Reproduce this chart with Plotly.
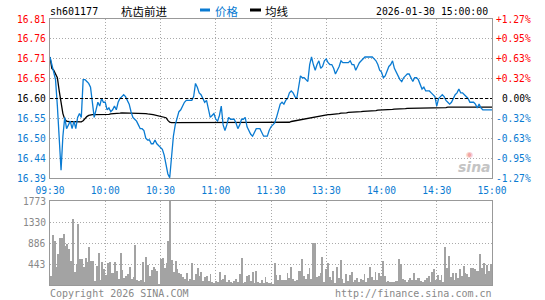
import plotly.graph_objects as go
import numpy as np

code = "sh601177"
name = "杭齿前进"
timestamp = "2026-01-30 15:00:00"
legend_price = "价格"
legend_avg = "均线"
prev_close = 16.60
pct_span = 1.27

time_ticks = [0, 30, 60, 90, 120, 150, 180, 210, 240]
time_labels = ["09:30", "10:00", "10:30", "11:00", "11:30", "13:30", "14:00", "14:30", "15:00"]
price_labels = ["16.39", "16.44", "16.50", "16.55", "16.60", "16.65", "16.71", "16.76", "16.81"]
pct_labels = ["-1.27%", "-0.95%", "-0.63%", "-0.32%", "0.00%", "+0.32%", "+0.63%", "+0.95%", "+1.27%"]
vol_labels = ["443", "886", "1330", "1773"]
vol_max = 1773

price = [
    16.71, 16.69, 16.67, 16.65, 16.58, 16.50, 16.41, 16.50, 16.55, 16.52,
    16.53, 16.54, 16.52, 16.54, 16.52, 16.55, 16.56, 16.55, 16.65, 16.65,
    16.645, 16.64, 16.63, 16.59, 16.55, 16.57, 16.59, 16.58, 16.60, 16.59,
    16.59, 16.57, 16.575, 16.565, 16.57, 16.58, 16.57, 16.59, 16.60, 16.605,
    16.61, 16.605, 16.595, 16.585, 16.565, 16.55, 16.545, 16.54, 16.53, 16.52,
    16.52, 16.515, 16.495, 16.49, 16.49, 16.48, 16.48, 16.49, 16.48, 16.475,
    16.47, 16.465, 16.45, 16.42, 16.40, 16.39, 16.45, 16.50, 16.53, 16.55,
    16.565, 16.57, 16.58, 16.59, 16.595, 16.595, 16.595, 16.595, 16.605, 16.64,
    16.63, 16.615, 16.61, 16.60, 16.59, 16.595, 16.575, 16.55, 16.555, 16.56,
    16.545, 16.54, 16.555, 16.58, 16.53, 16.515, 16.53, 16.55, 16.545, 16.545,
    16.545, 16.535, 16.52, 16.53, 16.545, 16.545, 16.55, 16.525, 16.515, 16.505,
    16.50, 16.51, 16.52, 16.52, 16.52, 16.51, 16.50, 16.50, 16.50, 16.515,
    16.525, 16.53, 16.535, 16.55, 16.565, 16.585, 16.59, 16.585, 16.595, 16.60,
    16.615, 16.62, 16.615, 16.605, 16.60, 16.63, 16.66, 16.655, 16.655, 16.65,
    16.645, 16.69, 16.71, 16.69, 16.675, 16.69, 16.70, 16.68, 16.685, 16.70,
    16.705, 16.695, 16.69, 16.69, 16.68, 16.665, 16.675, 16.685, 16.70, 16.695,
    16.695, 16.695, 16.695, 16.70, 16.69, 16.69, 16.675, 16.685, 16.695, 16.70,
    16.705, 16.71, 16.71, 16.71, 16.71, 16.71, 16.705, 16.70, 16.69, 16.675,
    16.67, 16.655, 16.66, 16.675, 16.685, 16.69, 16.70, 16.68, 16.67, 16.66,
    16.65, 16.645, 16.655, 16.66, 16.665, 16.665, 16.655, 16.645, 16.655, 16.655,
    16.65, 16.635, 16.625, 16.63, 16.62, 16.62, 16.62, 16.615, 16.61, 16.605,
    16.58, 16.60, 16.605, 16.61, 16.605, 16.595, 16.59, 16.585, 16.59, 16.60,
    16.61, 16.615, 16.625, 16.615, 16.615, 16.61, 16.605, 16.60, 16.59, 16.59,
    16.59, 16.585, 16.575, 16.585, 16.575, 16.57, 16.57, 16.57, 16.57, 16.57,
    16.57,
]

avg_price = [
    16.710, 16.680, 16.675, 16.665, 16.655, 16.620, 16.590, 16.560, 16.545, 16.540,
    16.539, 16.539, 16.538, 16.538, 16.538, 16.538, 16.538, 16.538, 16.541, 16.548,
    16.552, 16.555, 16.557, 16.557, 16.557, 16.557, 16.557, 16.558, 16.558, 16.558,
    16.558, 16.558, 16.558, 16.559, 16.559, 16.559, 16.559, 16.560, 16.561, 16.562,
    16.562, 16.562, 16.562, 16.562, 16.562, 16.562, 16.562, 16.562, 16.562, 16.562,
    16.562, 16.561, 16.560, 16.559, 16.559, 16.558, 16.557, 16.556, 16.555, 16.554,
    16.553, 16.552, 16.551, 16.549, 16.542, 16.537, 16.536, 16.536, 16.536, 16.536,
    16.536, 16.536, 16.537, 16.537, 16.537, 16.537, 16.537, 16.537, 16.537, 16.537,
    16.537, 16.537, 16.537, 16.537, 16.537, 16.537, 16.537, 16.537, 16.537, 16.537,
    16.537, 16.537, 16.537, 16.537, 16.537, 16.537, 16.537, 16.537, 16.537, 16.537,
    16.537, 16.537, 16.537, 16.537, 16.537, 16.537, 16.537, 16.537, 16.537, 16.537,
    16.537, 16.537, 16.537, 16.537, 16.537, 16.537, 16.537, 16.537, 16.537, 16.537,
    16.537, 16.537, 16.537, 16.537, 16.537, 16.537, 16.537, 16.537, 16.537, 16.537,
    16.537, 16.539, 16.540, 16.540, 16.541, 16.541, 16.542, 16.543, 16.544, 16.545,
    16.546, 16.548, 16.549, 16.550, 16.551, 16.552, 16.553, 16.554, 16.555, 16.556,
    16.556, 16.557, 16.557, 16.558, 16.558, 16.559, 16.559, 16.560, 16.561, 16.561,
    16.562, 16.562, 16.563, 16.563, 16.564, 16.564, 16.564, 16.565, 16.565, 16.565,
    16.566, 16.566, 16.567, 16.567, 16.567, 16.568, 16.568, 16.568, 16.569, 16.569,
    16.569, 16.570, 16.570, 16.570, 16.571, 16.571, 16.571, 16.572, 16.572, 16.572,
    16.573, 16.573, 16.573, 16.573, 16.574, 16.574, 16.574, 16.574, 16.574, 16.574,
    16.575, 16.575, 16.575, 16.575, 16.575, 16.575, 16.575, 16.575, 16.576, 16.576,
    16.576, 16.576, 16.576, 16.576, 16.576, 16.576, 16.577, 16.577, 16.577, 16.577,
    16.577, 16.577, 16.577, 16.577, 16.577, 16.577, 16.577, 16.577, 16.577, 16.577,
    16.577, 16.577, 16.577, 16.577, 16.577, 16.577, 16.577, 16.577, 16.577, 16.577,
    16.577,
]

volume = [
    190, 1056, 929, 387, 655, 1000, 1000, 1077, 831, 859,
    760, 507, 1394, 282, 443, 1288, 549, 549, 380, 563,
    486, 803, 507, 507, 84, 401, 676, 106, 486, 331,
    218, 472, 486, 253, 253, 486, 296, 127, 676, 317,
    148, 197, 232, 380, 127, 162, 845, 106, 92, 99,
    486, 70, 584, 422, 183, 317, 380, 345, 296, 14,
    549, 570, 359, 458, 929, 1773, 528, 282, 507, 338,
    253, 232, 169, 127, 260,
    84, 127, 465, 106, 232, 352, 190, 275, 84, 169,
    190, 84, 232, 63, 42, 84, 63, 275, 106, 127,
    211, 63, 106, 63, 42, 84, 127, 63, 232, 570,
    42, 63, 190, 211, 84, 275, 42, 296, 63, 42,
    106, 42, 169, 63, 42, 42, 21, 465, 211, 106,
    211, 106, 106, 106, 253, 148, 380, 127, 84, 106,
    296, 296, 549, 190, 127, 232, 359, 127, 887, 887,
    169, 190, 253, 591, 63, 338, 465, 169, 106, 296,
    42, 380, 148, 528, 127, 42, 232, 84, 211,
    268, 56, 106, 155, 56, 127, 106, 225, 56, 155,
    380, 169, 106, 268, 106, 246, 190, 507, 197, 56,
    92, 70, 56, 56, 84, 84, 549, 436, 127, 106,
    56, 106, 141, 106, 253, 106, 141, 155, 84, 56,
    106, 141, 183, 56, 268, 338, 106, 211, 106, 211,
    56, 810, 352, 620, 176, 246, 106, 246, 141, 338,
    197, 408, 260, 239, 176, 352, 366, 338, 296, 296,
    662, 366, 458, 230, 420, 300, 450,
]

minutes = list(range(len(price)))

BLUE = "#0a7bd2"
RED = "#ff0000"
GRAY = "#999999"
BARGRAY = "#a3a3a3"
GRID = "#aaaaaa"
MONO = "DejaVu Sans Mono"
CJK = "Noto Sans CJK SC"

W, H = 545, 300
L, R, T, B = 50, 492, 19, 285
PRICE_BOTTOM = 178
VOL_TOP = 201


def px_x(p):
    return (p - L) / (R - L)


def px_y(p):
    return (B - p) / (B - T)


lo = prev_close * (1 - pct_span / 100)
hi = prev_close * (1 + pct_span / 100)
price_ticks = list(np.linspace(lo, hi, len(price_labels)))
vol_ticks = list(np.linspace(0, vol_max, len(vol_labels) + 1))[1:]

fig = go.Figure()
fig.add_trace(go.Bar(x=minutes, y=volume, xaxis="x2", yaxis="y2", width=0.48,
                     marker=dict(color=BARGRAY, line=dict(width=0)), showlegend=False))
fig.add_trace(go.Scatter(x=minutes, y=avg_price, mode="lines", xaxis="x", yaxis="y",
                         line=dict(color="#000000", width=1.3), showlegend=False))
fig.add_trace(go.Scatter(x=minutes, y=price, mode="lines", xaxis="x", yaxis="y",
                         line=dict(color=BLUE, width=1.3), showlegend=False))

axis_common = dict(showline=True, mirror=True, linecolor=GRAY, linewidth=1,
                   showgrid=True, gridcolor=GRID, griddash="1px,2px", gridwidth=1,
                   zeroline=False, ticks="")

fig.update_layout(
    width=W, height=H,
    margin=dict(l=L, r=W - R, t=T, b=H - B, pad=0),
    paper_bgcolor="white", plot_bgcolor="white",
    bargap=0,
    xaxis=dict(domain=[0, 1], anchor="y", range=[0, 240], tickvals=time_ticks,
               ticktext=time_labels, tickfont=dict(family=MONO, size=9.6, color=BLUE),
               ticklabelstandoff=3, **axis_common),
    yaxis=dict(domain=[px_y(PRICE_BOTTOM), 1], anchor="x", range=[lo, hi],
               tickvals=price_ticks, showticklabels=False, **axis_common),
    xaxis2=dict(domain=[0, 1], anchor="y2", range=[-0.5, 240.5],
                tickvals=time_ticks, showticklabels=False, **axis_common),
    yaxis2=dict(domain=[0, px_y(VOL_TOP)], anchor="x2", range=[0, vol_max],
                tickvals=vol_ticks, showticklabels=False, **axis_common),
)

# zero (previous close) dashed line
fig.add_shape(type="line", xref="x domain", x0=0, x1=1, yref="y", y0=prev_close, y1=prev_close,
              line=dict(color="#000000", width=1, dash="3px,2px"))

ann = []


def label_color(i, n):
    mid = n // 2
    if i > mid:
        return RED
    if i == mid:
        return "#000000"
    return BLUE


for i, (v, t) in enumerate(zip(price_ticks, price_labels)):
    ann.append(dict(xref="paper", x=px_x(46), yref="y", y=v, text=t, xanchor="right",
                    yanchor="middle", showarrow=False, borderpad=0, borderwidth=0,
                    font=dict(family=MONO, size=9.6, color=label_color(i, len(price_labels)))))
for i, (v, t) in enumerate(zip(price_ticks, pct_labels)):
    ann.append(dict(xref="paper", x=px_x(531), yref="y", y=v, text=t, xanchor="right",
                    yanchor="middle", showarrow=False, borderpad=0, borderwidth=0,
                    font=dict(family=MONO, size=9.6, color=label_color(i, len(pct_labels)))))
for v, t in zip(vol_ticks, vol_labels):
    ann.append(dict(xref="paper", x=px_x(46), yref="y2", y=v, text=t, xanchor="right",
                    yanchor="middle", showarrow=False, borderpad=0, borderwidth=0,
                    font=dict(family=MONO, size=9.6, color="#888888")))

# header
ann.append(dict(xref="paper", yref="paper", x=px_x(50), y=px_y(11), text=code, xanchor="left",
                yanchor="middle", showarrow=False, borderpad=0, borderwidth=0,
                font=dict(family=MONO, size=10, color="#000000")))
ann.append(dict(xref="paper", yref="paper", x=px_x(121), y=px_y(11), text=name, xanchor="left",
                yanchor="middle", showarrow=False, borderpad=0, borderwidth=0,
                font=dict(family=CJK, size=11.5, color="#000000")))
ann.append(dict(xref="paper", yref="paper", x=px_x(215), y=px_y(11), text=legend_price, xanchor="left",
                yanchor="middle", showarrow=False, borderpad=0, borderwidth=0,
                font=dict(family=CJK, size=11.5, color=BLUE)))
ann.append(dict(xref="paper", yref="paper", x=px_x(265), y=px_y(11), text=legend_avg, xanchor="left",
                yanchor="middle", showarrow=False, borderpad=0, borderwidth=0,
                font=dict(family=CJK, size=11.5, color="#000000")))
ann.append(dict(xref="paper", yref="paper", x=px_x(488), y=px_y(11), text=timestamp, xanchor="right",
                yanchor="middle", showarrow=False, borderpad=0, borderwidth=0,
                font=dict(family=MONO, size=9.8, color="#000000")))
# footer
ann.append(dict(xref="paper", yref="paper", x=px_x(50), y=px_y(293), text="Copyright 2026 SINA.COM",
                xanchor="left", yanchor="middle", showarrow=False, borderpad=0, borderwidth=0,
                font=dict(family=MONO, size=10, color="#888888")))
ann.append(dict(xref="paper", yref="paper", x=px_x(492), y=px_y(293), text="http://finance.sina.com.cn",
                xanchor="right", yanchor="middle", showarrow=False, borderpad=0, borderwidth=0,
                font=dict(family=MONO, size=10, color="#888888")))
# watermark
ann.append(dict(xref="paper", yref="paper", x=px_x(474), y=px_y(167), text="<b><i>sina</i></b>",
                xanchor="center", yanchor="middle", showarrow=False, borderpad=0, borderwidth=0,
                font=dict(family="DejaVu Sans", size=14, color="#c4c4c4")))
ann.append(dict(xref="paper", yref="paper", x=px_x(469), y=px_y(154), text="◉",
                xanchor="center", yanchor="middle", showarrow=False, borderpad=0, borderwidth=0,
                font=dict(family="DejaVu Sans", size=8, color="#f2a6a6")))
fig.update_layout(annotations=ann)

# legend glyphs
fig.add_shape(type="rect", xref="paper", yref="paper", x0=px_x(200), x1=px_x(210),
              y0=px_y(11.5), y1=px_y(8.5), fillcolor=BLUE, line=dict(width=0))
fig.add_shape(type="rect", xref="paper", yref="paper", x0=px_x(250), x1=px_x(261),
              y0=px_y(11.5), y1=px_y(8.5), fillcolor="#000000", line=dict(width=0))

fig.write_html("out.html")
